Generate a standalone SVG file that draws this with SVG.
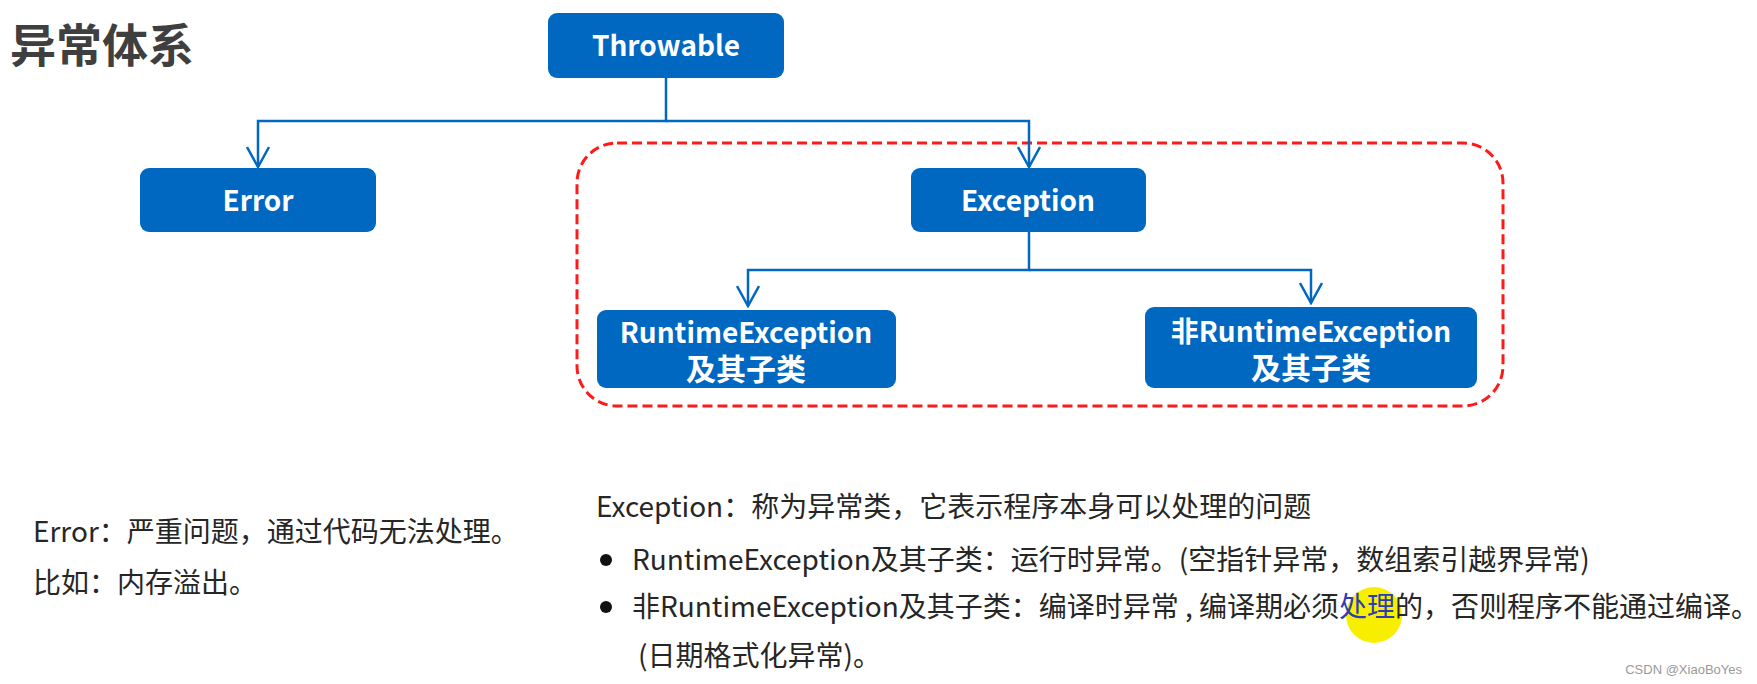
<svg xmlns="http://www.w3.org/2000/svg" width="1757" height="684" viewBox="0 0 1757 684">
<defs>
<style>
.box{fill:#0068C0;}
.lbl{fill:#fff;font-family:"Noto Sans CJK SC","Liberation Sans",sans-serif;font-weight:bold;font-size:28px;text-anchor:middle;}
.lblc{font-size:30px;}
.conn{fill:none;stroke:#0068C0;stroke-width:2.5;}
.body{fill:#262626;font-family:"Noto Sans CJK SC","Liberation Sans",sans-serif;font-size:28px;}
</style>
<marker id="arr" viewBox="0 0 24 24" refX="22" refY="12" markerWidth="24" markerHeight="24" markerUnits="userSpaceOnUse" orient="auto">
<path d="M2,1 L22,12 L2,23" fill="none" stroke="#0068C0" stroke-width="2.5"/>
</marker>
</defs>
<rect width="1757" height="684" fill="#fff"/>
<text x="10" y="62" font-family="'Noto Sans CJK SC',sans-serif" font-weight="bold" font-size="46" fill="#3f3f3f">异常体系</text>

<rect id="group-exception" x="577" y="143" width="926" height="263" rx="40" fill="none" stroke="#FF1A1A" stroke-width="3" stroke-dasharray="10 5"/>

<g id="connectors">
<path class="conn" d="M666,78 V121 H258 V167" marker-end="url(#arr)"/>
<path class="conn" d="M666,121 H1029 V167" marker-end="url(#arr)"/>
<path class="conn" d="M1029,232 V270 H748 V306" marker-end="url(#arr)"/>
<path class="conn" d="M1029,270 H1311 V303" marker-end="url(#arr)"/>
</g>

<g id="node-throwable">
<rect class="box" x="548" y="13" width="236" height="65" rx="9"/>
<text class="lbl" x="666" y="56">Throwable</text>
</g>
<g id="node-error">
<rect class="box" x="140" y="168" width="236" height="64" rx="9"/>
<text class="lbl" x="258" y="211">Error</text>
</g>
<g id="node-exception">
<rect class="box" x="911" y="168" width="235" height="64" rx="9"/>
<text class="lbl" x="1028" y="211">Exception</text>
</g>
<g id="node-runtime">
<rect class="box" x="597" y="310" width="299" height="78" rx="9"/>
<text class="lbl" x="746" y="343">RuntimeException<tspan class="lblc" x="746" dy="37">及其子类</tspan></text>
</g>
<g id="node-nonruntime">
<rect class="box" x="1145" y="307" width="332" height="81" rx="9"/>
<text class="lbl" x="1311" y="342">非RuntimeException<tspan class="lblc" x="1311" dy="37">及其子类</tspan></text>
</g>

<g id="notes">
<text class="body" x="33" y="542" font-size="26">Error：严重问题，通过代码无法处理。</text>
<text class="body" x="33" y="593" font-size="26">比如：内存溢出。</text>

<text class="body" x="596" y="517">Exception：称为异常类，它表示程序本身可以处理的问题</text>
<circle cx="606" cy="560" r="6" fill="#111"/>
<text class="body" x="632" y="570">RuntimeException及其子类：运行时异常。(空指针异常，数组索引越界异常)</text>
<circle cx="1374" cy="615" r="28" fill="#F8EE00"/>
<circle cx="606" cy="607" r="6" fill="#111"/>
<text class="body" x="632" y="617">非RuntimeException及其子类：编译时异常 , 编译期必须<tspan fill="#2b3cb8">处理</tspan>的，否则程序不能通过编译。</text>
<text class="body" x="638" y="666">(日期格式化异常)。</text>
<text x="1742" y="674" font-family="'Liberation Sans',sans-serif" font-size="13" fill="#999" text-anchor="end">CSDN @XiaoBoYes</text>
</g>
</svg>
